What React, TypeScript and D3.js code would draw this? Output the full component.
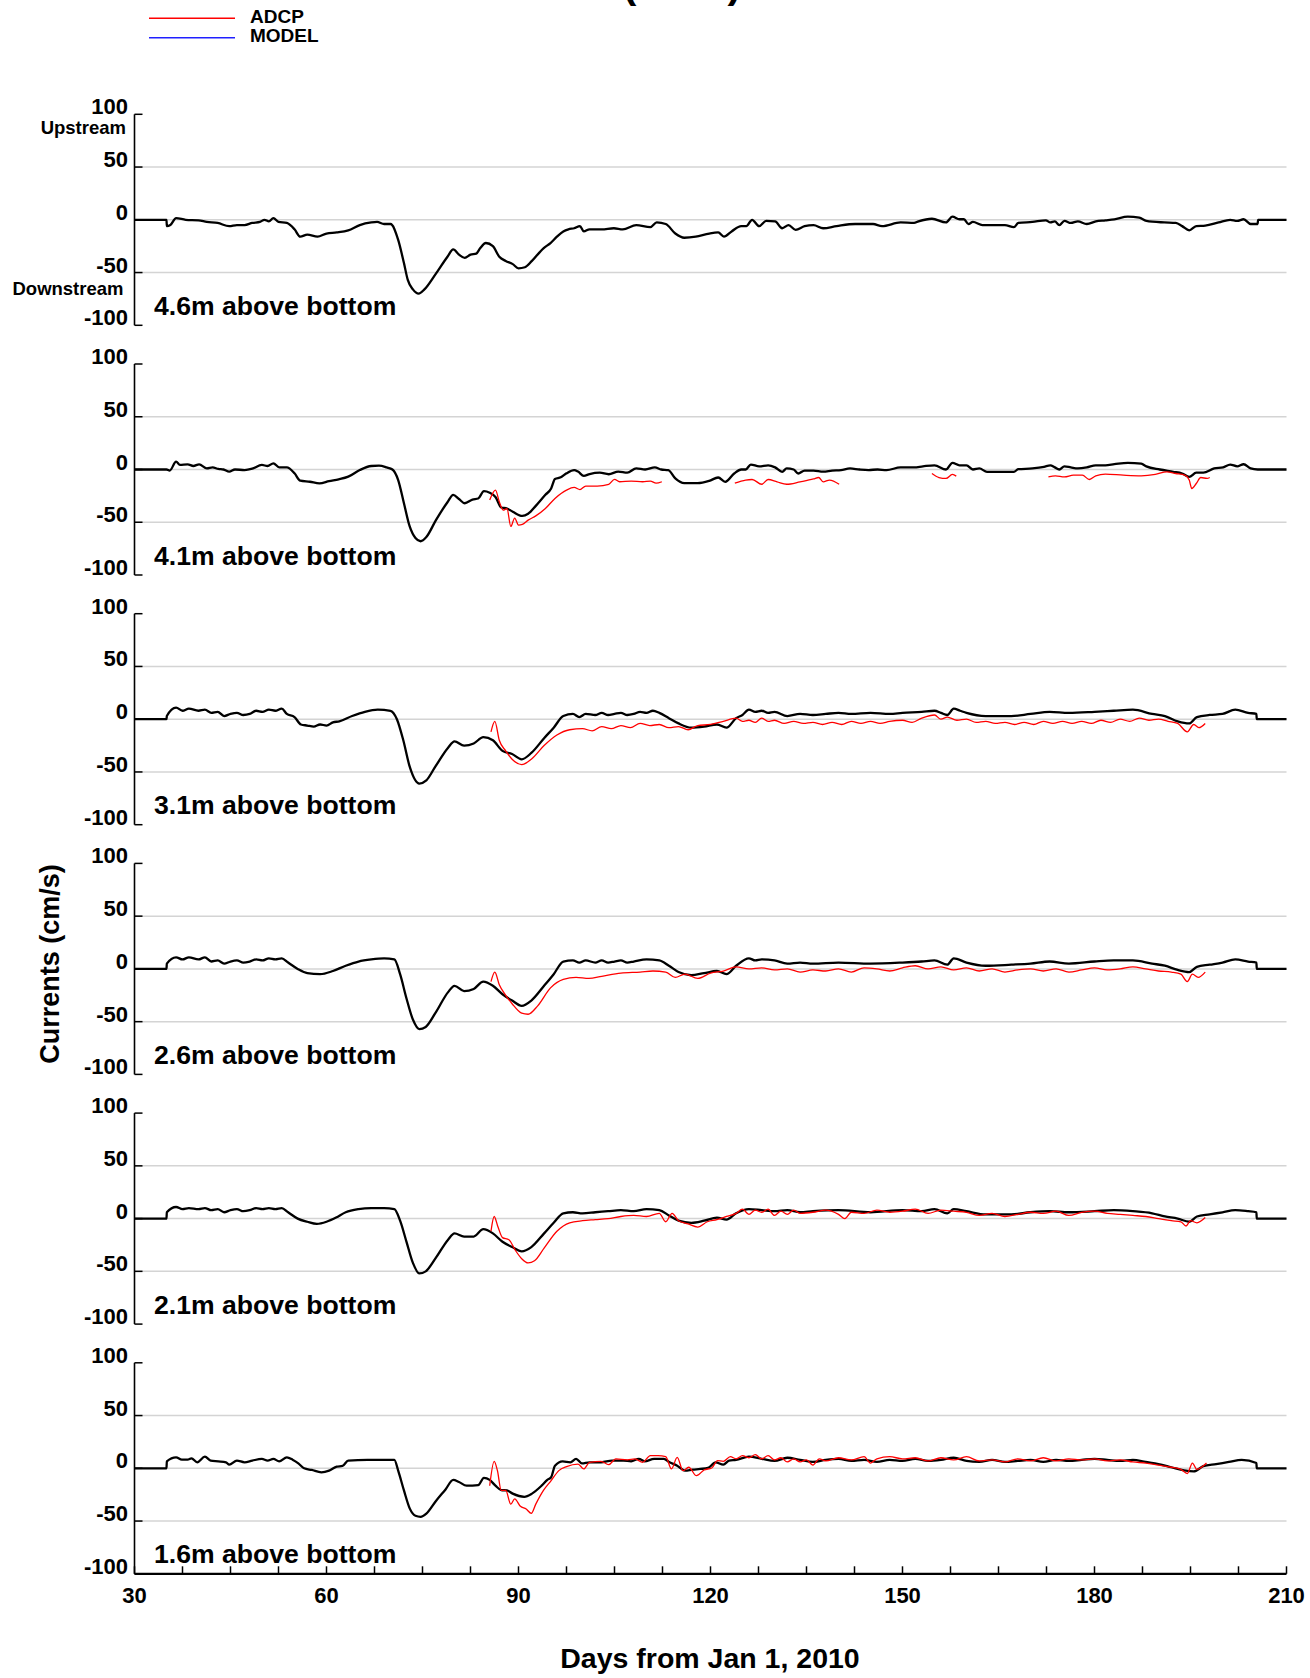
import React from 'react';
import * as d3 from 'd3';

type Pt = [number, number];

const panelLabels = ['4.6m above bottom', '4.1m above bottom', '3.1m above bottom', '2.6m above bottom', '2.1m above bottom', '1.6m above bottom'];
const yTickValues = [100, 50, 0, -50, -100];
const xTickLabels = [30, 60, 90, 120, 150, 180, 210];
const xMinorTicks = d3.range(30, 210.01, 7.5);
const legendItems = [{ name: 'ADCP', color: '#ff0000' }, { name: 'MODEL', color: '#2020ff' }];

const model46: Pt[] = [[30,0],[35,0],[35.05,-6],[35.6,-5],[36.5,1.6],[38,0],[40,-0.5],[41.3,-2],[43,-3],[44.8,-6],[46,-5],[47.2,-5],[48.4,-3],[49.6,-2],[50.3,0],[51,-1.5],[51.7,1.6],[52.5,-2],[53.8,-3],[55,-9],[55.9,-16],[57,-14],[58.6,-16],[60,-13],[61.6,-12],[63.4,-10],[65.2,-5],[67,-2.5],[67.9,-2],[69,-4],[70,-4],[71.2,-19],[72.1,-41],[72.7,-57],[73.5,-66],[74.4,-70],[75.3,-66],[77.1,-51],[78.9,-35],[79.8,-28],[80.7,-33],[81.6,-36],[82.5,-33],[83.4,-32],[84,-27],[84.9,-22],[86,-25],[87,-35],[88,-39],[89.1,-42],[90,-46],[91,-45],[92.1,-39],[93.9,-27],[95,-22],[96,-16],[97,-11],[97.8,-9],[98.7,-8],[99.6,-6],[100.2,-11],[101.1,-9],[103,-9],[104.9,-8],[106.3,-9],[108.4,-5],[110.6,-7],[111.6,-2.5],[113,-4],[114.5,-13],[115.9,-17],[117.7,-16],[119.8,-13],[121.2,-12],[122.1,-16],[123.3,-11],[124.8,-6],[125.6,-6],[126.5,0],[127.6,-6],[128.7,-1],[130.1,-1.5],[131.2,-8],[132.2,-5],[133.3,-9.5],[134.7,-6],[136.1,-5],[137.6,-8],[139.7,-6],[142.6,-4],[145.4,-4],[146.8,-6],[149.7,-2.5],[151.8,-3],[152.5,-1.5],[154.6,1],[156.8,-2.5],[157.8,3],[158.9,0.5],[159.6,0.5],[160.3,-4],[161,-2],[162.5,-5],[164.6,-5],[166,-5],[167.4,-7],[168.1,-3],[170.3,-2],[172.4,-0.5],[173.1,-2.5],[173.8,-1.5],[174.5,-5],[175.3,-1],[176.3,-3],[177.4,-1.5],[178.8,-4],[180.2,-1.5],[181.7,-0.5],[183.1,0.5],[185.2,3],[187,2],[188.1,-1],[190.9,-2.5],[192.7,-3],[193.7,-6],[194.8,-10],[195.9,-6],[197.3,-5.5],[199.4,-2.5],[201.2,0],[202.3,-1],[203.3,0.5],[204.4,-4],[205.5,-4],[205.55,0],[210,0]];

const model41: Pt[] = [[30,0],[35,0],[35.5,-1],[36.5,7.4],[37.1,4.3],[38.3,4.9],[39.2,3.3],[40.1,4.9],[41.3,1.1],[42.2,2],[43.1,0.5],[43.9,0],[44.8,-2],[45.7,0],[47.2,-0.5],[48.4,0.8],[49.9,4.3],[50.8,3.3],[51.7,5.9],[52.6,2],[53.8,2],[55,-3.6],[55.9,-10.6],[57.4,-11.6],[58.9,-13.1],[60.4,-11],[61.9,-9.3],[63.4,-6.8],[65.2,-0.5],[67,3.3],[68.2,3.6],[69.4,2],[70.3,0],[71.2,-10],[72.1,-32],[73,-54],[73.9,-65],[74.7,-68],[75.6,-64],[77.1,-48],[78.9,-31],[79.8,-24],[80.7,-28],[81.6,-32],[82.8,-28.5],[83.7,-27.5],[84.6,-20.5],[85.5,-22],[86.4,-26],[87.3,-36],[88.2,-37],[89.1,-40],[90.6,-44],[91.5,-42],[92.7,-34.5],[94.2,-24],[95.1,-18],[95.7,-9],[96.6,-7.4],[97.5,-3.6],[98.7,-0.5],[99.3,-2],[100.2,-6],[101.1,-4.3],[102.7,-3],[104.1,-4.5],[105.6,-2],[107,-3],[108.4,1],[109.8,0],[111.3,2],[112.3,0],[113.4,-0.6],[114.5,-8.5],[115.9,-13],[118,-13],[119.8,-10.8],[121.2,-7.6],[122.3,-11.7],[123.7,-3.8],[124.8,0],[125.5,0],[126.3,4.7],[127.6,3],[129,4],[130.1,2],[131.2,-2.2],[131.9,1],[133,0],[133.7,-3.8],[134.7,-1],[136.1,-1],[137.6,-2],[139,-1],[140.4,-0.5],[141.8,1],[143.3,0],[144.7,-0.5],[146.1,0],[147.5,-0.6],[149.7,2],[151.8,2],[153.2,3],[155,4],[156.8,0],[157.8,6.3],[158.9,4],[160,4],[161,0],[162,1],[163.2,-2.2],[165.3,-2.2],[167.4,-2.2],[168.1,0.3],[170.3,1],[172.1,2.5],[173.1,4],[173.8,2],[174.5,0],[175.3,3],[176.3,2],[177.4,1],[178.8,2],[180.2,4],[181.7,4],[183.1,5],[185.2,6.3],[187.3,5.5],[188.1,3],[190.2,0],[192.3,-2.2],[193.7,-3.8],[194.8,-7],[195.9,-3],[197,-3],[198.7,1],[200.1,2],[201.2,4.7],[202.3,3],[203.3,5],[204.4,1],[205.5,0],[210,0]];

const model31: Pt[] = [[30,0],[35,0],[35.05,3],[36.5,11],[37.5,8],[38.5,10],[40,8],[41,9],[42,6],[43,7],[44,3],[45,5],[46,6],[47,4],[48,5],[49,8],[50,7],[51,9],[52,8],[53,10],[53.8,5],[55,2],[56,-5],[57,-6],[58,-7],[59,-5],[60,-6],[61,-3],[62,-2],[64,3],[66,7],[68,9],[70,8],[71,0],[72,-20],[73,-45],[74.5,-61],[75.6,-58],[77,-45],[79,-27],[80,-21],[81.5,-25],[83,-23],[84.5,-17],[86,-20],[87.5,-30],[89,-33],[90.5,-38],[92,-32],[94,-18],[95.5,-8],[97,3],[98.5,5],[99.5,2],[100.5,5],[102,4],[103,6],[104,4],[105,5],[106,6],[107,4],[108,5],[109,7],[110,6],[111,8],[112,6],[113.5,1],[115,-4],[117,-8],[119,-7],[121,-5],[122.5,-8],[124,1],[125,4],[126,9],[127,7],[128,8],[129,6],[130,7],[132,3],[134,5],[136,4],[138,5],[140,6],[142,5],[145,6],[148,5],[150,6],[153,7],[155,8],[156,6],[157,4],[158,10],[159,8],[160,6],[163,3],[167,3],[170,5],[173,7],[176,6],[180,7],[183,8],[186,9],[189,5],[191,3],[193,-2],[194.8,-4],[196,2],[198,4],[200,5],[202,9],[204,6],[205.3,5],[205.35,0],[210,0]];

const model26: Pt[] = [[30,0],[35,0],[35.05,5],[36.5,11],[37.5,9],[38.5,11],[40,9],[41,11],[42,7],[43,8],[44,5],[45,7],[46,8],[47,6],[48,7],[49,9],[50,8],[51,10],[52,9],[53,10],[54,6],[55.5,0],[57,-4],[59,-5],[61,-2],[63,3],[65,7],[67,9],[69,10],[70.6,9],[71.5,-5],[72.5,-28],[73.5,-48],[74.5,-57],[75.5,-55],[77,-42],[79,-22],[80,-16],[81.5,-21],[83,-19],[84.5,-12],[86,-16],[87.5,-24],[89,-30],[90.5,-35],[92,-30],[94,-16],[95.5,-5],[97,7],[98.5,8],[99.5,6],[100.5,8],[102,6],[103,8],[104,6],[105,7],[106,8],[107,6],[108,7],[110,9],[112,8],[113.5,3],[115,-3],[117,-6],[119,-4],[121,-2],[122.5,-5],[124,3],[126,10],[127,8],[128,9],[130,8],[132,5],[134,6],[136,5],[140,6],[145,5],[150,6],[153,7],[155,8],[157,4],[158,10],[160,6],[163,3],[167,4],[170,5],[173,7],[176,5],[180,7],[183,8],[186,8],[189,5],[191,3],[193,-1],[194.8,-3],[196,2],[198,4],[200,6],[202,9],[204,7],[205.3,6],[205.35,0],[210,0]];

const model21: Pt[] = [[30,0],[35,0],[35.05,6],[36.5,11],[37.5,9],[38.5,10],[40,9],[41,10],[42,8],[43,9],[44,6],[45,8],[46,9],[47,7],[48,8],[49,10],[50,9],[51,10],[52,9],[53,10],[54,6],[55.5,0],[57,-3],[58.5,-5],[60,-3],[61.5,1],[63,6],[65,9],[67,10],[69,10],[70.6,9],[71.5,-2],[72.5,-22],[73.5,-42],[74.5,-52],[75.5,-50],[77,-38],[79,-20],[80,-14],[81.5,-17],[83,-17],[84.5,-10],[86,-14],[87.5,-22],[89,-27],[90.5,-31],[92,-27],[94,-14],[95.5,-4],[97,5],[98.5,6],[100,5],[102,6],[104,7],[106,8],[108,7],[110,9],[112,8],[113.5,3],[115,-2],[117,-4],[119,-2],[121,1],[122.5,-1],[124,5],[126,9],[128,8],[130,7],[132,8],[134,6],[136,7],[140,8],[145,6],[150,8],[153,7],[155,9],[157,5],[158,9],[160,7],[163,4],[167,4],[170,6],[173,7],[176,6],[180,7],[183,8],[186,7],[189,5],[191,2],[193,0],[194.8,-3],[196,2],[198,4],[200,6],[202,8],[204,7],[205.3,6],[205.35,0],[210,0]];

const model16: Pt[] = [[30,0],[35,0],[35.05,6.6],[36.5,10.4],[37.4,8.2],[38.3,8.2],[38.9,9.5],[39.8,5.7],[41,11],[41.9,7.3],[43.1,6.6],[44.3,5.7],[44.8,3.5],[46,7.3],[47.2,5.7],[48.4,7.3],[49.9,8.9],[50.8,7.3],[51.7,8.9],[52.6,6.6],[53.8,10.4],[54.7,8.2],[55.6,4.7],[56.5,0],[57.7,-1.6],[59.2,-3.8],[60.4,-2.2],[61.6,1.6],[62.5,2.2],[63.4,7.3],[66.4,8],[70.6,8],[71.2,-2.2],[72.1,-21],[73,-38],[73.9,-45],[74.7,-46],[75.6,-43],[77.1,-31],[78.6,-20],[79.8,-11],[80.7,-13],[81.9,-16.5],[83.7,-16],[84.6,-9],[85.5,-11],[86.4,-16.5],[87.3,-20.6],[88.2,-21],[89.1,-24],[90.9,-27],[92.1,-24],[93.6,-16.5],[94.5,-11],[95.1,-8.5],[95.7,2.5],[96.9,6.6],[98.1,5.7],[99,9],[99.9,4.7],[101.1,5.7],[102.9,5.7],[104.6,7.3],[106.4,7.3],[107.6,6.6],[108.8,9],[109.7,6.6],[111.2,9],[112.7,9],[113.6,5.7],[114.8,2.5],[116,-2.2],[117.2,-1.3],[118.4,-0.6],[119.6,0.3],[120.8,5.7],[122,3.5],[122.9,7.3],[124,8],[126,11],[128,9],[130,7],[132,10],[134,8],[136,6],[138,8],[140,9],[142,7],[144,8],[146,6],[148,8],[150,7],[152,9],[154,7],[156,8],[158,10],[160,7],[162,6],[164,8],[166,6],[168,7],[170,8],[172,6],[174,8],[176,7],[178,8],[180,9],[182,8],[184,7],[186,8],[188,6],[190,4],[192,1],[194,-2],[195.5,-3],[197,2],[199,4],[201,6],[203,8],[205.3,5],[205.35,0],[210,0]];

const adcp41: Pt[][] = [
  [[85.5,-29],[86.4,-19.5],[87,-30.5],[87.6,-38.5],[88.2,-37],[88.8,-54],[89.4,-46],[90,-52.7],[90.6,-52],[91.5,-48],[92.7,-44],[94.2,-37],[95.7,-27.4],[97.5,-19.5],[98.7,-17],[99.6,-19],[100.5,-15.7],[102.3,-15.7],[104.1,-14],[105,-9.3],[105.8,-11.6],[107.6,-11],[109.4,-11.6],[110.6,-11],[111.5,-13],[112.4,-11.6]],
  [[123.8,-13],[125.5,-10],[126.5,-9.5],[128,-14],[129,-9.5],[130.4,-11.7],[131.9,-14],[134,-11.7],[136.1,-9],[136.9,-7.6],[137.6,-11.7],[138.6,-10],[140.1,-14]],
  [[154.6,-3.8],[155.7,-7.6],[156.8,-8.5],[157.8,-4.7],[158.4,-6.3]],
  [[172.8,-7],[173.9,-6],[175.3,-7],[176.7,-5.4],[178.1,-5.4],[179.2,-9.5],[180.2,-6],[181.7,-4.4],[184.5,-5.4],[187.3,-6],[189.5,-4.7],[191.3,-2.2],[192.7,-3.8],[194.1,-5.4],[194.8,-10],[195.2,-18],[195.9,-13.3],[196.6,-7.6],[197.6,-8.5],[198,-7.6]]
];

const adcp31: Pt[][] = [[[85.7,-12],[86.3,-2],[87,-20],[88,-30],[89,-38],[90.5,-43],[92,-38],[94,-25],[96,-15],[98,-10],[100,-9],[101.5,-11],[103,-7],[104.5,-9],[106,-6],[107.5,-8],[109,-4],[110.5,-6],[112,-5],[113.5,-8],[115,-7],[116.5,-10],[118,-6],[120,-5],[122,-2],[124,1],[125,-2],[126,-1],[127,-3],[128,1],[129,-2],[130,-1],[131.5,-4],[133,-2],[134.5,-4],[136,-3],[137.5,-5],[139,-3],[140.5,-5],[142,-2],[143.5,-4],[145,-2],[146.5,-4],[148,-2],[150,-1],[151.5,-3],[153,1],[155,4],[156,0],[157,2],[158.5,-1],[160,0],[161.5,-3],[163,-2],[164.5,-4],[166,-3],[167.5,-5],[169,-3],[170.5,-5],[172,-2],[173.5,-4],[175,-2],[176.5,-4],[178,-2],[179.5,-4],[181,-1],[182.5,-3],[184,0],[185.5,-2],[187,1],[188.5,-1],[190,0],[191.5,-2],[193,-4],[194.5,-12],[195.5,-5],[196.3,-8],[197.3,-4]]];

const adcp26: Pt[][] = [[[85.7,-12],[86.3,-3],[87,-15],[88,-25],[89,-33],[90.5,-42],[91.5,-43],[93,-35],[95,-18],[97,-10],[99,-8],[101,-9],[103,-7],[106,-4],[109,-3],[111,-2],[113,-3],[114.5,-8],[116,-5],[118,-9],[120,-4],[122,-2],[124,2],[126,0],[128,1],[130,-1],[132,0],[134,-3],[136,-1],[138,-2],[140,0],[142,-3],[144,1],[146,0],[148,-2],[150,1],[152,3],[154,0],[156,2],[158,-1],[160,1],[162,-2],[164,0],[166,-3],[168,-1],[170,0],[172,-2],[174,0],[176,-3],[178,-1],[180,1],[182,-1],[184,0],[186,2],[188,0],[190,-2],[192,-3],[193.5,-5],[194.5,-12],[195.3,-5],[196.2,-8],[197.3,-3]]];

const adcp21: Pt[][] = [[[85.7,-12],[86.2,2],[86.8,-8],[87.5,-18],[88.5,-20],[89.5,-30],[90.5,-38],[91.5,-42],[92.5,-40],[94,-28],[96,-12],[98,-4],[100,-2],[102,-1],[104,0],[106,2],[108,3],[110,2],[112,5],[113,-3],[114,5],[115,-2],[116.5,-5],[118,-8],[119.5,-3],[121,-1],[122.5,2],[124,5],[125,9],[126,4],[127,8],[128,6],[129,9],[130,3],[131,7],[132,4],[133,8],[134,5],[136,6],[138,8],[140,4],[141,0],[142,6],[144,5],[146,8],[148,6],[150,7],[152,9],[154,5],[156,8],[158,7],[160,6],[162,3],[164,5],[166,2],[168,4],[170,6],[172,5],[174,7],[176,3],[178,6],[180,7],[182,5],[184,4],[186,3],[188,2],[190,0],[192,-2],[193.5,-3],[194.3,-7],[195,-2],[196,-4],[197.3,1]]];

const adcp16: Pt[][] = [[[85.5,-16.5],[86.2,6.6],[86.7,-2],[87.3,-21],[88,-21],[88.8,-34],[89.4,-29],[90.3,-36],[91.2,-38.6],[92,-42.7],[92.7,-34],[93.9,-21],[95.1,-11.7],[96.3,-2.2],[97.5,1.6],[99.3,4],[100.2,-0.6],[101.1,5.7],[102.9,6.6],[104.1,3.5],[105.2,8.9],[107,8],[108.2,8.9],[109.4,5.7],[110.6,12],[111.8,12],[113,11],[113.9,-0.6],[114.8,10.4],[115.7,-2.2],[116.6,1],[117.8,-7],[119,-1.6],[120.2,0.3],[121.1,7.3],[122,6.6],[123.1,11],[124,9],[125,12],[126,10],[127,13],[128,9],[129,12],[130,8],[131,10],[132,6],[133,9],[134,6],[135,8],[136,3],[137,9],[138,7],[140,10],[142,8],[144,11],[145,5],[146,9],[148,11],[150,9],[152,10],[154,7],[156,10],[158,8],[160,11],[162,7],[164,8],[166,6],[168,9],[170,7],[172,10],[174,7],[176,9],[178,8],[180,9],[182,7],[184,8],[186,6],[188,5],[190,3],[192,1],[193.5,-1],[194.5,-5],[195.3,5],[196,-1],[197.5,5]]];

const modelSeries: Pt[][] = [model46, model41, model31, model26, model21, model16];
const adcpSeries: Pt[][][] = [[], adcp41, adcp31, adcp26, adcp21, adcp16];

const FONT = '"Liberation Sans", Arial, Helvetica, sans-serif';

export default function App() {
  const W = 1310, H = 1678;
  const X0 = 134.5, X1 = 1286.5;
  const firstTop = 114.3, step = 249.7, ph = 211;
  const x = d3.scaleLinear().domain([30, 210]).range([X0, X1]);
  const bottomAxisY = firstTop + 5 * step + ph;

  return (
    <svg width={W} height={H} viewBox={`0 0 ${W} ${H}`} style={{ position: 'absolute', left: 0, top: 0, background: '#fff' }} fontFamily={FONT} fontWeight="bold">
      <rect x={0} y={0} width={W} height={H} fill="#fff" />
      {/* title, clipped at the top edge as in the original */}
      <text x={682} y={-2.4} textAnchor="middle" fontSize={41}>(2010)</text>
      {/* legend */}
      {legendItems.map((l, i) => (
        <g key={l.name}>
          <line x1={149} x2={235} y1={18.3 + i * 19.4} y2={18.3 + i * 19.4} stroke={l.color} strokeWidth={1.4} />
          <text x={250} y={23.3 + i * 19} fontSize={19}>{l.name}</text>
        </g>
      ))}
      {panelLabels.map((label, i) => {
        const top = firstTop + i * step;
        const y = d3.scaleLinear().domain([-100, 100]).range([top + ph, top]);
        const line = d3.line<Pt>().x(d => x(d[0])).y(d => y(d[1])).curve(d3.curveMonotoneX);
        return (
          <g key={label}>
            {[50, 0, -50].map(v => (
              <line key={v} x1={X0} x2={X1} y1={y(v)} y2={y(v)} stroke="#d4d4d4" strokeWidth={1.5} />
            ))}
            <line x1={X0} x2={X0} y1={y(100)} y2={y(-100)} stroke="#000" strokeWidth={1.6} />
            {yTickValues.map(v => (
              <g key={v}>
                <line x1={X0} x2={X0 + 8} y1={y(v)} y2={y(v)} stroke="#000" strokeWidth={1.5} />
                <text x={128} y={y(v)} textAnchor="end" fontSize={22}>{v}</text>
              </g>
            ))}
            <path d={line(modelSeries[i]) || ''} fill="none" stroke="#000" strokeWidth={2.3} strokeLinejoin="round" />
            {adcpSeries[i].map((seg, j) => (
              <path key={j} d={line(seg) || ''} fill="none" stroke="#ff0000" strokeWidth={1.3} strokeLinejoin="round" />
            ))}
            <text x={154} y={top + ph - 10.5} fontSize={26.6}>{label}</text>
            {i === 0 && (
              <>
                <text x={126} y={top + 19.7} textAnchor="end" fontSize={18.5}>Upstream</text>
                <text x={123.5} y={top + 180.7} textAnchor="end" fontSize={18.5}>Downstream</text>
              </>
            )}
          </g>
        );
      })}
      {/* bottom x axis */}
      <line x1={X0} x2={X1} y1={bottomAxisY} y2={bottomAxisY} stroke="#000" strokeWidth={2.2} />
      {xMinorTicks.map(t => (
        <line key={t} x1={x(t)} x2={x(t)} y1={bottomAxisY} y2={bottomAxisY - 7.5} stroke="#000" strokeWidth={1.5} />
      ))}
      {xTickLabels.map(t => (
        <text key={t} x={x(t)} y={1603} textAnchor="middle" fontSize={22}>{t}</text>
      ))}
      <text x={710} y={1668} textAnchor="middle" fontSize={28.5}>Days from Jan 1, 2010</text>
      <text transform="translate(59,964) rotate(-90)" textAnchor="middle" fontSize={27}>Currents (cm/s)</text>
    </svg>
  );
}
